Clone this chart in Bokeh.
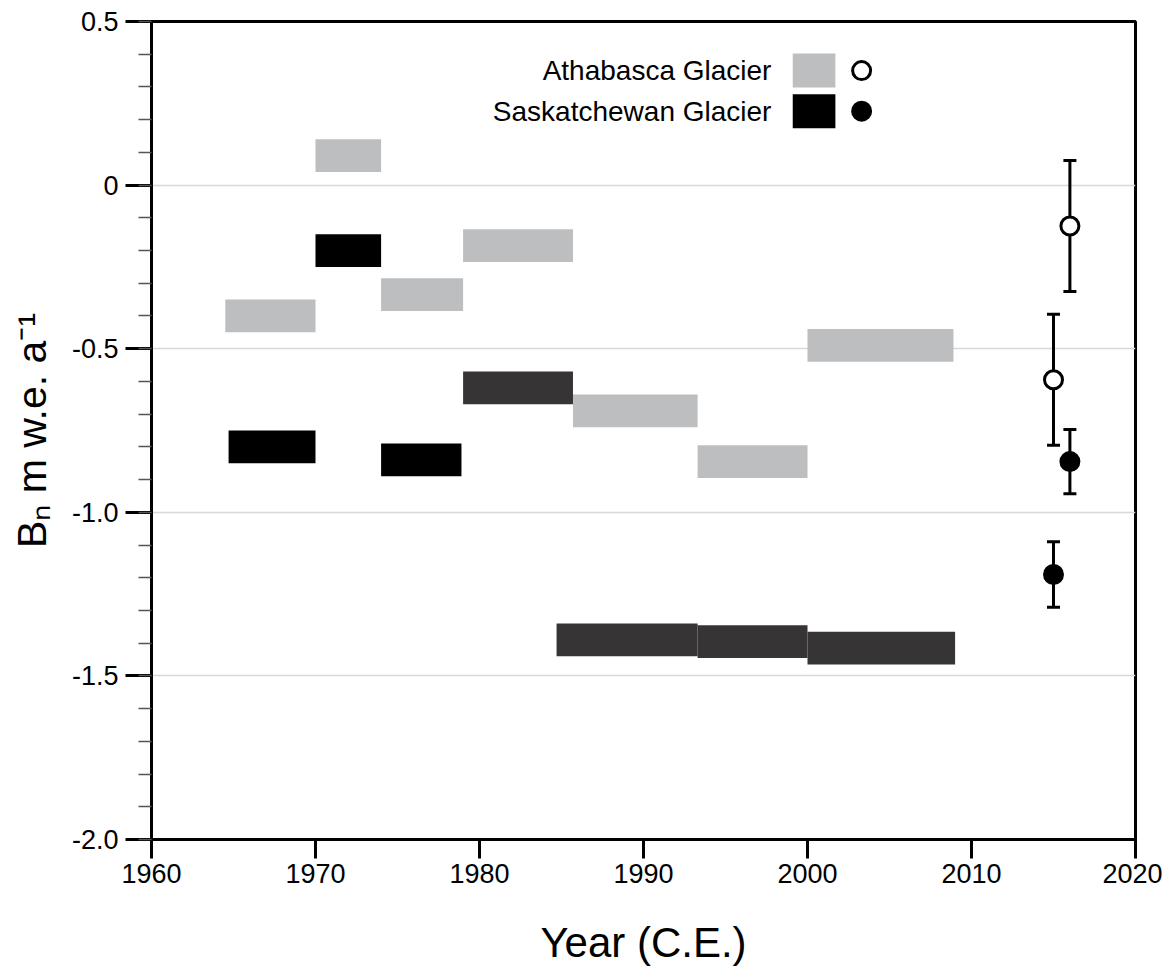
import numpy as np
from bokeh.plotting import figure
from bokeh.models import Range1d, FixedTicker, Whisker, ColumnDataSource, TeeHead
from bokeh.core.properties import value
from bokeh.embed import file_html
from bokeh.resources import INLINE

# ---------------- data ----------------
x_ticks = [1960, 1970, 1980, 1990, 2000, 2010, 2020]
x_tick_labels = ["1960", "1970", "1980", "1990", "2000", "2010", "2020"]
y_ticks = [0.5, 0.0, -0.5, -1.0, -1.5, -2.0]
y_tick_labels = ["0.5", "0", "-0.5", "-1.0", "-1.5", "-2.0"]

# Athabasca Glacier period-mean mass balance (bars)
ath_start = [1964.5, 1970.0, 1974.0, 1979.0, 1985.7, 1993.3, 2000.0]
ath_end = [1970.0, 1974.0, 1979.0, 1985.7, 1993.3, 2000.0, 2008.9]
ath_bn = [-0.40, 0.09, -0.335, -0.185, -0.69, -0.845, -0.49]

# Saskatchewan Glacier period-mean mass balance (bars)
sask_start = [1964.7, 1970.0, 1974.0, 1979.0, 1984.7, 1993.3, 2000.0]
sask_end = [1970.0, 1974.0, 1978.9, 1985.7, 1993.3, 2000.0, 2009.0]
sask_bn = [-0.80, -0.20, -0.84, -0.62, -1.39, -1.395, -1.415]
sask_source = ["early", "early", "early", "late", "late", "late", "late"]

# recent point estimates with uncertainty
ath_pt_year = [2015.0, 2016.0]
ath_pt_bn = [-0.595, -0.125]
ath_pt_err = [0.20, 0.20]
sask_pt_year = [2015.0, 2016.0]
sask_pt_bn = [-1.19, -0.845]
sask_pt_err = [0.10, 0.098]

legend_labels = ["Athabasca Glacier", "Saskatchewan Glacier"]
x_title = "Year (C.E.)"
y_title = "Bₙ m w.e. a⁻¹"

# ---------------- styling ----------------
GRAY = "#bdbec0"
BLACK = "#000000"
DARK = "#363435"
FONT = "Liberation Sans"
BAR_H = 0.1

W, H = 1162, 969
p = figure(width=W, height=H, output_backend="svg", toolbar_location=None,
           x_range=Range1d(1960, 2020), y_range=Range1d(-2.0, 0.5),
           min_border_left=151, min_border_right=W - 1135, min_border_top=21,
           min_border_bottom=H - 839)
p.background_fill_color = "white"
p.border_fill_color = "white"
p.outline_line_color = "black"
p.outline_line_width = 3

# axes
xa = p.xaxis[0]
xa.ticker = FixedTicker(ticks=x_ticks, minor_ticks=[])
xa.major_label_overrides = {float(t): l for t, l in zip(x_ticks, x_tick_labels)}
xa.axis_label = x_title
xa.axis_label_text_font = FONT
xa.axis_label_text_font_size = "42px"
xa.axis_label_text_font_style = "normal"
xa.axis_label_text_color = "black"
xa.axis_label_text_line_height = 0.8
xa.axis_label_standoff = 33
xa.major_label_text_font = FONT
xa.major_label_text_font_size = "27px"
xa.major_label_text_color = "black"
xa.major_label_standoff = 5
xa.axis_line_width = 3
xa.axis_line_color = "black"
xa.major_tick_out = 19
xa.major_tick_in = 0
xa.major_tick_line_width = 3
xa.major_tick_line_color = "black"
xa.minor_tick_out = 0
xa.minor_tick_in = 0

ya = p.yaxis[0]
minor = [round(v, 2) for v in np.arange(-2.0, 0.5001, 0.1)]
ya.ticker = FixedTicker(ticks=y_ticks, minor_ticks=minor)
ya.major_label_overrides = {float(t): l for t, l in zip(y_ticks, y_tick_labels)}
ya.axis_label = y_title
ya.axis_label_text_font = FONT
ya.axis_label_text_font_size = "41px"
ya.axis_label_text_font_style = "normal"
ya.axis_label_text_color = "black"
ya.axis_label_standoff = 14
ya.major_label_text_font = FONT
ya.major_label_text_font_size = "27px"
ya.major_label_text_color = "black"
ya.major_label_standoff = 7
ya.axis_line_width = 3
ya.axis_line_color = "black"
ya.major_tick_out = 26
ya.major_tick_in = 0
ya.major_tick_line_width = 3
ya.major_tick_line_color = "black"
ya.minor_tick_out = 13
ya.minor_tick_in = 0
ya.minor_tick_line_width = 1.5
ya.minor_tick_line_color = "#555555"

p.xgrid.visible = False
p.ygrid.ticker = FixedTicker(ticks=y_ticks)
p.ygrid.grid_line_color = "#d8d8d8"
p.ygrid.grid_line_width = 1.5

# bars
ath_src = ColumnDataSource(dict(left=ath_start, right=ath_end,
                                bottom=[v - BAR_H / 2 for v in ath_bn],
                                top=[v + BAR_H / 2 for v in ath_bn]))
p.quad(left="left", right="right", bottom="bottom", top="top", source=ath_src,
       fill_color=GRAY, line_color=None)

sask_colors = [BLACK if s == "early" else DARK for s in sask_source]
sask_src = ColumnDataSource(dict(left=sask_start, right=sask_end,
                                 bottom=[v - BAR_H / 2 for v in sask_bn],
                                 top=[v + BAR_H / 2 for v in sask_bn],
                                 color=sask_colors))
p.quad(left="left", right="right", bottom="bottom", top="top", source=sask_src,
       fill_color="color", line_color=None)

# error bars + points
for yrs, bn, err, fill in [(ath_pt_year, ath_pt_bn, ath_pt_err, "white"),
                           (sask_pt_year, sask_pt_bn, sask_pt_err, "black")]:
    src = ColumnDataSource(dict(x=yrs, y=bn,
                                upper=[b + e for b, e in zip(bn, err)],
                                lower=[b - e for b, e in zip(bn, err)]))
    w = Whisker(base="x", upper="upper", lower="lower", source=src, dimension="height",
                line_width=3, line_color="black",
                upper_head=TeeHead(size=13, line_width=3, line_color="black"),
                lower_head=TeeHead(size=13, line_width=3, line_color="black"))
    p.add_layout(w)
    p.scatter(x="x", y="y", source=src, marker="circle", size=18,
              fill_color=fill, line_color="black", line_width=3)

# legend (custom: label, box, circle)
leg_text_x = 1997.8
leg_box_l, leg_box_r = 1999.1, 2001.7
leg_circ_x = 2003.3
leg_rows_y = [0.350, 0.226]
leg_box_h = 0.104
p.text(x=[leg_text_x] * 2, y=leg_rows_y, text=legend_labels,
       text_align="right", text_baseline="middle", text_font=value(FONT),
       text_font_size="28px", text_color="black")
p.quad(left=[leg_box_l] * 2, right=[leg_box_r] * 2,
       bottom=[v - leg_box_h / 2 for v in leg_rows_y],
       top=[v + leg_box_h / 2 for v in leg_rows_y],
       fill_color=[GRAY, BLACK], line_color=None)
p.scatter(x=[leg_circ_x] * 2, y=leg_rows_y, marker="circle", size=18,
          fill_color=["white", "black"], line_color="black", line_width=3)

open("out.html", "w").write(file_html(p, INLINE))
